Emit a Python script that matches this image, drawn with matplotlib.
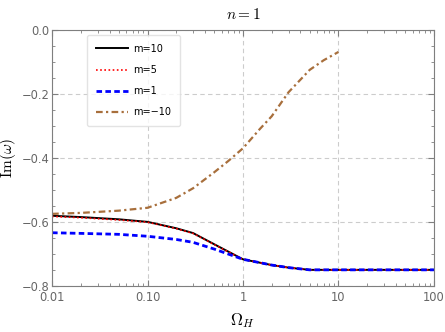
import numpy as np
import matplotlib
matplotlib.use("Agg")
import matplotlib.pyplot as plt
from matplotlib.ticker import FixedLocator, MultipleLocator, LogLocator, NullFormatter

plt.rcParams['mathtext.fontset'] = 'cm'

# data
omega_h = [0.01, 0.02, 0.05, 0.1, 0.2, 0.3, 0.5, 1, 2, 3, 5, 10, 20, 50, 100]
im_m10 = [-0.581, -0.585, -0.592, -0.600, -0.620, -0.635, -0.670, -0.717, -0.735, -0.743, -0.750, -0.750, -0.750, -0.750, -0.750]
im_m5 = [-0.583, -0.587, -0.594, -0.601, -0.621, -0.636, -0.671, -0.717, -0.735, -0.743, -0.750, -0.750, -0.750, -0.750, -0.750]
im_m1 = [-0.634, -0.636, -0.639, -0.645, -0.655, -0.664, -0.685, -0.717, -0.735, -0.743, -0.750, -0.750, -0.750, -0.750, -0.750]
omega_h_neg = [0.01, 0.02, 0.05, 0.1, 0.2, 0.3, 0.5, 0.7, 1, 1.5, 2, 3, 5, 7, 10]
im_mneg10 = [-0.575, -0.572, -0.565, -0.556, -0.525, -0.495, -0.445, -0.410, -0.370, -0.310, -0.270, -0.195, -0.125, -0.095, -0.069]

xticks = [0.01, 0.1, 1, 10, 100]
xticklabels = ["0.01", "0.10", "1", "10", "100"]

fig = plt.figure(figsize=(4.45, 3.32), dpi=100)
ax = fig.add_axes([0.117, 0.139, 0.858, 0.771])

ax.plot(omega_h, im_m10, color='black', lw=1.4, label='m=10')
ax.plot(omega_h, im_m5, color='red', lw=1.2, ls=(0, (1, 1.5)), label='m=5')
ax.plot(omega_h, im_m1, color='blue', lw=2.0, ls=(0, (2, 1.2)), label='m=1')
ax.plot(omega_h_neg, im_mneg10, color='#a86f3c', lw=1.6, ls=(0, (3, 1.5, 1, 1.5)), label='m=\u221210')

ax.set_xscale('log')
ax.set_xlim(0.01, 100)
ax.set_ylim(-0.8, 0.0)
ax.xaxis.set_major_locator(FixedLocator(xticks))
ax.set_xticklabels(xticklabels)
ax.xaxis.set_minor_locator(LogLocator(base=10, subs=np.arange(2, 10)))
ax.xaxis.set_minor_formatter(NullFormatter())
ax.yaxis.set_major_locator(MultipleLocator(0.2))
ax.yaxis.set_minor_locator(MultipleLocator(0.05))
ax.set_yticklabels([f"{v:.1f}".replace('-', '\u2212') for v in ax.get_yticks()])

gray = '#7f7f7f'
for s in ax.spines.values():
    s.set_color(gray)
ax.tick_params(which='both', direction='in', top=True, right=True, colors=gray, labelsize=8.3, labelcolor='#666666')
ax.tick_params(which='major', length=4)
ax.tick_params(axis='y', which='major', pad=2)
ax.tick_params(axis='x', which='major', pad=4)
ax.tick_params(which='minor', length=2)
ax.grid(True, which='major', color='#cccccc', ls=(0, (4, 3)), lw=0.8)

ax.set_title(r'$n=1$', fontsize=11, pad=8)
ax.set_xlabel(r'$\Omega_H$', fontsize=12, labelpad=5)
ax.set_ylabel(r'$\mathrm{Im}(\omega)$', fontsize=11)
ax.yaxis.set_label_coords(-0.088, 0.5)

leg = ax.legend(loc='upper left', bbox_to_anchor=(0.092, 0.98), fontsize=7, frameon=True,
                handlelength=3.3, handletextpad=0.5, labelspacing=1.15, borderpad=0.9,
                borderaxespad=0, fancybox=True)
leg.get_frame().set_edgecolor('#dddddd')

fig.savefig('out.png', dpi=100)
